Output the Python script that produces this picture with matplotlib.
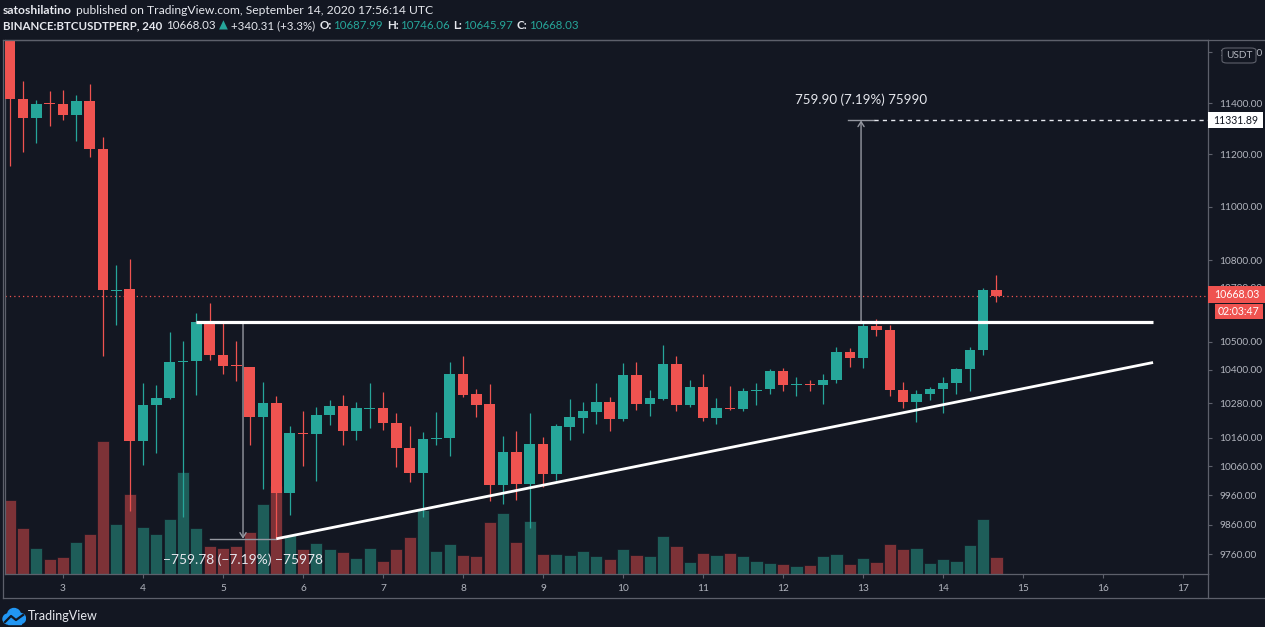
import numpy as np, pandas as pd
import matplotlib; matplotlib.use("Agg"); import matplotlib.pyplot as plt
from matplotlib.patches import Rectangle, FancyBboxPatch, Circle
from matplotlib.lines import Line2D
from matplotlib.ticker import FixedLocator, FuncFormatter, NullLocator, NullFormatter

plt.rcParams["font.family"] = ["Lato", "DejaVu Sans"]

# ---- data: BINANCE:BTCUSDTPERP 4h candles, Sep 2 08:00 -> Sep 14 16:00 UTC ----
opens = [11780, 11416, 11340, 11399, 11396, 11354, 11407, 11221, 10687, 10693,
         10148, 10274, 10300, 10428, 10433, 10573, 10454, 10414, 10410, 10232,
         10280, 9967, 10176, 10174, 10239, 10271, 10183, 10262, 10264, 10211,
         10123, 10038, 10154, 10157, 10386, 10313, 10277, 9994, 10110, 10000,
         10139, 10035, 10198, 10229, 10251, 10284, 10225, 10380, 10279, 10297,
         10421, 10274, 10340, 10228, 10263, 10260, 10326, 10331, 10394, 10347,
         10349, 10346, 10365, 10464, 10443, 10559, 10544, 10329, 10286, 10314,
         10333, 10351, 10403, 10471, 10687.99]
highs = [11830, 11488, 11410, 11447, 11450, 11431, 11476, 11267, 10781, 10804,
         10353, 10345, 10536, 10504, 10604, 10640, 10570, 10504, 10411, 10357,
         10306, 10199, 10254, 10267, 10292, 10309, 10285, 10354, 10321, 10248,
         10199, 10178, 10250, 10428, 10450, 10330, 10350, 10165, 10184, 10248,
         10162, 10208, 10296, 10285, 10352, 10304, 10424, 10428, 10328, 10490,
         10450, 10363, 10386, 10298, 10341, 10334, 10352, 10404, 10406, 10375,
         10363, 10386, 10482, 10477, 10576, 10583, 10561, 10357, 10327, 10339,
         10374, 10406, 10482, 10697, 10746.06]
lows = [11156, 11209, 11246, 11312, 11335, 11252, 11190, 10448, 10562, 9908,
        10063, 10107, 10296, 9887, 10310, 10436, 10386, 10360, 10133, 9982,
        9812.21, 9893, 10060, 10010, 10205, 10133, 10153, 10194, 10188, 10056,
        10006, 9887, 10133, 10095, 10304, 10233, 9940, 9930, 9944, 9850,
        9989, 10014, 10152, 10175, 10206, 10182, 10218, 10256, 10237, 10292,
        10255, 10268, 10218, 10206, 10257, 10255, 10275, 10314, 10325, 10307,
        10325, 10277, 10354, 10411, 10408, 10522, 10306, 10265, 10214, 10291,
        10246, 10315, 10325, 10452, 10645.97]
closes = [11415, 11340, 11398, 11396, 11354, 11407, 11221, 10688, 10691, 10147,
          10275, 10300, 10428, 10433, 10573, 10453, 10415, 10412, 10233, 10280,
          9967, 10176, 10173, 10239, 10271, 10183, 10263, 10265, 10211, 10123,
          10038, 10155, 10157, 10386, 10310, 10275, 9994, 10110, 10000, 10138,
          10035, 10200, 10232, 10253, 10284, 10225, 10380, 10279, 10298, 10421,
          10274, 10340, 10228, 10265, 10261, 10324, 10329, 10394, 10347, 10349,
          10347, 10364, 10464, 10443, 10558, 10544, 10327, 10286, 10314, 10333,
          10352, 10403, 10472, 10688, 10668.03]
volume = [74, 46.3, 26, 14.7, 16.7, 31.7, 40.3, 133, 50, 79.7,
          47.3, 39.7, 54.7, 101.7, 46.3, 28, 26.3, 28, 42, 69.7,
          88, 38.7, 24.7, 30.7, 24.7, 22.3, 15.7, 25.7, 13, 24.7,
          36.7, 64, 23, 30, 19, 17.7, 52.3, 60.7, 32.3, 53,
          19.7, 19.7, 18.7, 23, 17.7, 15, 25.3, 19, 18, 37.7,
          28, 12.3, 20.7, 18.7, 21, 18, 13.3, 11.3, 9.7, 8.3,
          8.7, 17.7, 20.3, 10.3, 16, 11.7, 30, 25.3, 25.7, 11.3,
          15, 13, 28.7, 54.3, 17.3]  # k BTC
yticks = [9760, 9860, 9960, 10060, 10160, 10280, 10400, 10500, 10700, 10800, 11000, 11200, 11400, 11600]
days = list(range(3, 18))

resist = 10571.99; target_up = 11331.89; target_dn = 9812.21; last = 10668.03
tl_start = ("2020-09-05 16:00", 9812.21); tl_end = ("2020-09-16 15:00", 10426)

BG = "#131722"; UP = "#26a69a"; DN = "#ef5350"; TXT = "#b2b5be"; FRAME = "#5d606b"
GRAY = "#9598a1"; WH = "#e6e8ee"
W, H = 1265, 627

T0 = pd.Timestamp("2020-09-02 08:00")
t = pd.date_range(T0, periods=len(opens), freq="4h")
pos_ = lambda ts: (pd.Timestamp(ts) - T0) / pd.Timedelta(hours=4)
x = np.array([pos_(v) for v in t])
o, h, l, c, v = map(np.array, (opens, highs, lows, closes, volume))

fig = plt.figure(figsize=(W / 100, H / 100), dpi=100, facecolor=BG)
rect = [5 / W, 1 - 574 / H, (1208 - 5) / W, (574 - 40) / H]
XL = (-0.35, 89.87)

# volume pane underneath
axv = fig.add_axes(rect); axv.set_facecolor(BG)
vcol = np.where(c >= o, "#1e5d59", "#7d3237")
axv.bar(x, v, width=0.92, color=vcol, edgecolor=BG, linewidth=0.5)
axv.set_xlim(*XL); axv.set_ylim(0, v.max() * 4.0)
axv.set_xticks([]); axv.set_yticks([])
for s in axv.spines.values(): s.set_visible(False)

ax = fig.add_axes(rect); ax.set_facecolor("none")
ax.set_yscale("log"); ax.set_ylim(9694, 11650); ax.set_xlim(*XL)

# candles
col = np.where(c >= o, UP, DN)
ax.vlines(x, l, h, colors=col, lw=0.9, zorder=3)
body = np.abs(c - o); body = np.maximum(body, 3.5)
ax.bar(x, body, bottom=np.minimum(o, c), width=0.78, color=col, zorder=4, linewidth=0)

# current price dotted
ax.axhline(last, color=DN, lw=0.9, ls=(0, (1, 2.5)), zorder=2)

# measure tool (down)
xa, xb = pos_("2020-09-04 20:00"), pos_("2020-09-05 16:00")
xm = (xa + xb) / 2
ax.plot([pos_("2020-09-04 16:00"), xb], [resist, resist], color=GRAY, lw=1, zorder=5)
ax.plot([xa, xb], [target_dn, target_dn], color=GRAY, lw=1, zorder=5)
ax.annotate("", xy=(xm, target_dn), xytext=(xm, resist),
            arrowprops=dict(arrowstyle="->,head_length=0.35,head_width=0.22", color=GRAY, lw=1,
                            shrinkA=0, shrinkB=0), zorder=5)
ax.annotate("\u2212759.78 (\u22127.19%) \u221275978", (xm, target_dn), xytext=(0, -15),
            textcoords="offset points", ha="center", va="center", color=WH, fontsize=9.9, zorder=6)

# measure tool (up)
xa2, xb2 = 62.9, 64.8
xm2 = (xa2 + xb2) / 2
ax.plot([xa2, xb2], [resist, resist], color=GRAY, lw=1, zorder=5)
ax.plot([xa2, xb2], [target_up, target_up], color=GRAY, lw=1, zorder=5)
ax.plot([xb2, XL[1]], [target_up, target_up], color=WH, lw=1, ls=(0, (3, 3)), zorder=5)
ax.annotate("", xy=(xm2, target_up), xytext=(xm2, resist),
            arrowprops=dict(arrowstyle="->,head_length=0.35,head_width=0.22", color=GRAY, lw=1,
                            shrinkA=0, shrinkB=0), zorder=5)
ax.annotate("759.90 (7.19%) 75990", (xm2, target_up), xytext=(0, 15),
            textcoords="offset points", ha="center", va="center", color=WH, fontsize=9.6, zorder=6)

# ascending triangle lines
ax.plot([pos_("2020-09-04 16:00"), pos_(tl_end[0])], [resist, resist], color="white", lw=2.3,
        solid_capstyle="butt", zorder=6)
ax.plot([pos_(tl_start[0]), pos_(tl_end[0])], [tl_start[1], tl_end[1]], color="white", lw=2.0,
        solid_capstyle="butt", zorder=6)

# axes styling
ax.yaxis.tick_right()
ax.yaxis.set_major_locator(FixedLocator(yticks))
ax.yaxis.set_minor_locator(NullLocator()); ax.yaxis.set_minor_formatter(NullFormatter())
ax.yaxis.set_major_formatter(FuncFormatter(lambda val, p: f"{val:.2f}"))
ax.set_xticks([pos_(f"2020-09-{d:02d}") for d in days], [str(d) for d in days])
ax.tick_params(axis="y", colors=FRAME, labelcolor=TXT, labelsize=7.3, length=3, pad=5, width=0.8)
ax.tick_params(axis="x", colors=FRAME, labelcolor=TXT, labelsize=7.3, length=3, pad=4, width=0.8)
for s in ax.spines.values(): s.set_color(FRAME); s.set_linewidth(0.9)

def fline(xs, ys):
    fig.add_artist(Line2D([a / W for a in xs], [1 - b / H for b in ys], transform=fig.transFigure,
                          color=FRAME, lw=0.9))
fline([3, 1265], [40, 40]); fline([3, 1265], [598, 598])
fline([3, 3], [40, 598]); fline([1208, 1208], [574, 598])

def fbox(x0, y0, x1, y1, fc, s, tc):
    fig.add_artist(Rectangle((x0 / W, 1 - y1 / H), (x1 - x0) / W, (y1 - y0) / H,
                             transform=fig.transFigure, facecolor=fc, edgecolor="none", zorder=5))
    fig.text((x0 + x1) / 2 / W, 1 - (y0 + y1) / 2 / H, s, color=tc, fontsize=7.6,
             ha="center", va="center", zorder=6)
fbox(1208, 112, 1263, 128, "white", "11331.89", "#131722")
fbox(1208, 286, 1265, 303, DN, "10668.03", "white")
fbox(1215, 304, 1263, 319, DN, "02:03:47", "white")
fig.add_artist(FancyBboxPatch((1222 / W, 1 - 63 / H), 34 / W, 15 / H, boxstyle="round,pad=0,rounding_size=0.004",
                              transform=fig.transFigure, facecolor=BG, edgecolor=FRAME, lw=0.8, zorder=5))
fig.text(1239 / W, 1 - 55.5 / H, "USDT", color=TXT, fontsize=7.2, ha="center", va="center", zorder=6)

# header
r = fig.canvas.get_renderer()
def row(y, parts, x0=3, size=8.7):
    xx = x0
    for s, cc, bold, gap in parts:
        tt = fig.text(xx / W, 1 - y / H, s, color=cc, fontsize=size, ha="left", va="center",
                      fontweight="bold" if bold else "normal")
        xx = tt.get_window_extent(r).x1 + gap
row(10.5, [("satoshilatino", WH, True, 4),
           ("published on TradingView.com, September 14, 2020 17:56:14 UTC", WH, False, 0)])
row(25.5, [("BINANCE:BTCUSDTPERP, 240", WH, True, 4), ("10668.03", WH, False, 3), ("\u25b2", UP, False, 3),
           ("+340.31 (+3.3%)", WH, False, 5), ("O:", WH, True, 1), ("10687.99", UP, False, 4),
           ("H:", WH, True, 1), ("10746.06", UP, False, 4), ("L:", WH, True, 1), ("10645.97", UP, False, 4),
           ("C:", WH, True, 1), ("10668.03", UP, False, 0)], size=8.3)

# TradingView logo
lg = fig.add_axes([2 / W, 1 - 626 / H, 24 / W, 20 / H]); lg.set_xlim(0, 24); lg.set_ylim(0, 20); lg.axis("off")
for cx, cy, rr in [(6, 7, 5), (12, 11, 6.5), (18.5, 7.5, 5)]:
    lg.add_patch(Circle((cx, cy), rr, color="#2196f3"))
lg.add_patch(Rectangle((6, 2), 12.5, 6, color="#2196f3"))
lg.plot([3, 9, 14, 21], [4, 10, 6, 11], color=BG, lw=1.6)
fig.text(28 / W, 1 - 616 / H, "TradingView", color=WH, fontsize=9, ha="left", va="center")

fig.savefig("out.png", dpi=100, facecolor=BG)
